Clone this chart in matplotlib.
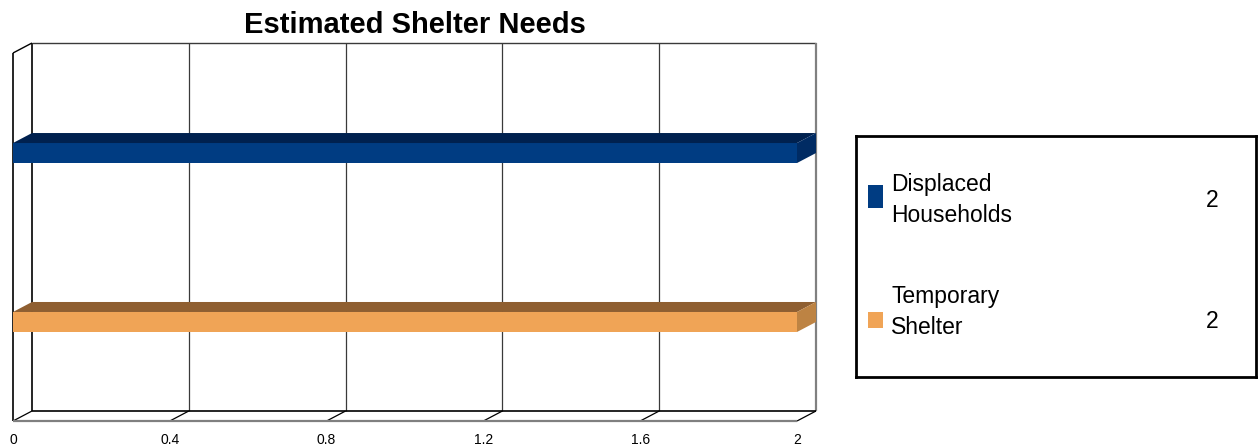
import matplotlib
matplotlib.use('Agg')
import matplotlib.pyplot as plt
from matplotlib.patches import Polygon, Rectangle

plt.rcParams['font.family'] = ['Liberation Sans', 'DejaVu Sans']

# dados
categorias = ['Temporary\nShelter', 'Displaced\nHouseholds']
valores = [2, 2]
cores_frente = ['#F0A456', '#003C82']
cores_topo = ['#8F5F31', '#00214F']
cores_lado = ['#BD8343', '#002B63']
ticks_x = [0, 0.4, 0.8, 1.2, 1.6, 2]
titulo = 'Estimated Shelter Needs'

W, H = 1258, 447
fig = plt.figure(figsize=(W / 100, H / 100), dpi=100)

# plano frontal do grafico
ax = fig.add_axes([13 / W, 26 / H, 784 / W, 368 / H])
xmin, xmax = 0, 2
y0, y1 = -0.586, 1.592
ax.set_xlim(xmin, xmax)
ax.set_ylim(y0, y1)
for s in ax.spines.values():
    s.set_visible(False)
ax.patch.set_visible(False)

# profundidade (19 px para a direita, 10 px para cima) em unidades de dados
dx = 19 * (xmax - xmin) / 784
dy = 10 * (y1 - y0) / 368
h = 20 * (y1 - y0) / 368


def linha(xs, ys, cor='black', lw=1.0, z=1):
    ax.plot(xs, ys, color=cor, lw=lw, zorder=z, clip_on=False, solid_capstyle='butt')


# parede do fundo
for t in ticks_x[1:-1]:
    linha([t + dx, t + dx], [y0 + dy, y1 + dy], '#3a3a3a', 0.9)
linha([dx, dx], [y0 + dy, y1 + dy], 'black', 1.2)
linha([dx, xmax + dx], [y1 + dy, y1 + dy], '#3a3a3a', 1.0)
linha([xmax + dx, xmax + dx], [y0 + dy, y1 + dy], '#808080', 1.6)
linha([dx, xmax + dx], [y0 + dy, y0 + dy], 'black', 1.2)

# parede esquerda
linha([0, 0], [y0, y1], 'black', 1.2)
linha([0, dx], [y1, y1 + dy], 'black', 1.0)

# chao
for t in ticks_x:
    linha([t, t + dx], [y0, y0 + dy], 'black', 0.9)
linha([xmin, xmax], [y0, y0], '#808080', 1.6)

# barras 3d
for i, v in enumerate(valores):
    yb, yt = i - h / 2, i + h / 2
    ax.add_patch(Rectangle((0, yb), v, h, facecolor=cores_frente[i], edgecolor='none',
                           zorder=3, clip_on=False))
    ax.add_patch(Polygon([(0, yt), (v, yt), (v + dx, yt + dy), (dx, yt + dy)],
                         facecolor=cores_topo[i], edgecolor='none', zorder=3, clip_on=False))
    ax.add_patch(Polygon([(v, yb), (v + dx, yb + dy), (v + dx, yt + dy), (v, yt)],
                         facecolor=cores_lado[i], edgecolor='none', zorder=3, clip_on=False))

ax.set_xticks(ticks_x)
ax.set_xticklabels([f'{t:g}' for t in ticks_x])
ax.set_yticks([])
ax.tick_params(axis='x', length=0, pad=8.5, labelsize=10)

fig.text(415 / W, 1 - 33 / H, titulo, ha='center', va='baseline', fontsize=21, fontweight='bold')

# legenda
lax = fig.add_axes([856 / W, (H - 377) / H, 400 / W, 241 / H])
lax.set_xlim(856, 1256)
lax.set_ylim(377, 136)
lax.set_xticks([])
lax.set_yticks([])
for s in lax.spines.values():
    s.set_linewidth(2)
    s.set_color('black')

leg_y_texto = [312, 200]
leg_y_caixa = [320.5, 196.5]
leg_alt_caixa = [16, 23]
leg_y_valor = [322, 201]
for i in range(len(categorias)):
    lax.add_patch(Rectangle((868, leg_y_caixa[i] - leg_alt_caixa[i] / 2), 15, leg_alt_caixa[i],
                            facecolor=cores_frente[i], edgecolor='none'))
    lax.text(891, leg_y_texto[i], categorias[i], ha='left', va='center', fontsize=16.5,
             linespacing=1.45)
    lax.text(1212, leg_y_valor[i], f'{valores[i]:g}', ha='center', va='center', fontsize=16.5)

fig.savefig('out.png', dpi=100)
